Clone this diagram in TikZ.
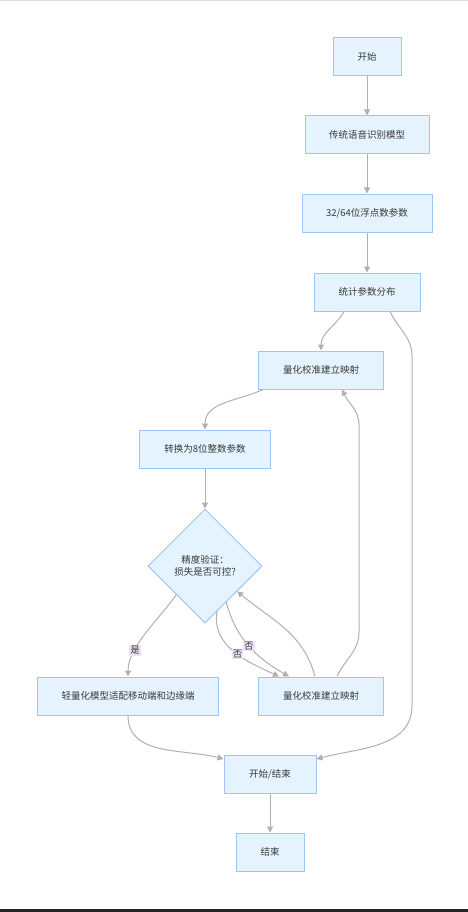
\documentclass[tikz,border=0pt]{standalone}
\usepackage{fontspec}
\setmainfont{Noto Sans CJK SC}
\usetikzlibrary{
    arrows.meta,
    calc,
    shapes.geometric
}
\definecolor{boxfill}{HTML}{E4F3FD}
\definecolor{boxline}{HTML}{9EC5F6}
\definecolor{linkgray}{HTML}{B0B0B0}
\definecolor{tagfill}{HTML}{ECE3F6}
\definecolor{inkgray}{HTML}{3A3A3A}
\tikzset{
  box/.style={
    draw=boxline,
    fill=boxfill,
    line width=1pt,
    text=inkgray,
    font=\fontsize{9.5}{12}\selectfont,
    minimum height=38pt,
    inner sep=0pt
  },
  decide/.style={
    box,
    diamond,
    aspect=1,
    minimum width=114pt,
    minimum height=114pt,
    align=center
  },
  link/.style={
    linkgray,
    line width=1pt,
    -{Triangle[length=6pt,width=6pt]}
  },
  tag/.style={
    fill=tagfill,
    text=inkgray,
    font=\fontsize{9.5}{11}\selectfont,
    inner sep=1pt
  }
}

\begin{document}
\begin{tikzpicture}[x=1pt,y=1pt]
\useasboundingbox (0,0) rectangle (468,-912);
\fill[white] (0,0) rectangle (468,-912);
\draw[gray!25, line width=1pt] (0,-0.5) -- (468,-0.5);
\fill[black!85] (0,-909) rectangle (468,-912);

\node[box, minimum width=68pt]  (start) at (367,-57)  {开始};
\node[box, minimum width=124pt] (asr)   at (367,-135) {传统语音识别模型};
\node[box, minimum width=130pt] (fp)    at (367,-213) {32/64位浮点数参数};
\node[box, minimum width=106pt] (stat)  at (367,-292) {统计参数分布};
\node[box, minimum width=125pt] (calA)  at (321,-370) {量化校准建立映射};
\node[box, minimum width=131pt] (int8)  at (205,-449) {转换为8位整数参数};
\node[decide]                   (check) at (205,-566) {精度验证：\\损失是否可控?};
\node[box, minimum width=181pt] (lite)  at (128,-696) {轻量化模型适配移动端和边缘端};
\node[box, minimum width=125pt] (calB)  at (321,-696) {量化校准建立映射};
\node[box, minimum width=92pt]  (se)    at (270,-774) {开始/结束};
\node[box, minimum width=68pt]  (stop)  at (270,-852) {结束};

\foreach \a/\b in {start/asr, asr/fp, fp/stat, int8/check, se/stop} {
  \draw[link] (\a) -- (\b);
}

\draw[link] ([xshift=-23pt]stat.south) to[out=-120,in=90] (calA.north);
\draw[link] ([xshift=23pt]stat.south) to[out=-65,in=90] ++(22,-45)
  -- ++(0,-349) to[out=-90,in=15] ([yshift=15pt]se.east);
\draw[link] ([xshift=-58pt]calA.south) to[out=-155,in=90] (int8.north);
\draw[link] ($(check.west)!0.5!(check.south)$) to[out=-125,in=90,looseness=0.8]
  node[tag, pos=0.7] (yes) {是} (lite.north);
\draw[link] ($(check.south)!0.21!(check.east)$) to[out=-100,in=155]
  node[tag, pos=0.55] (noA) {否} ([xshift=-42pt]calB.north);
\draw[link] ($(check.south)!0.37!(check.east)$) to[out=-75,in=150]
  node[tag, pos=0.5] (noB) {否} ([xshift=-32pt]calB.north);
\draw[link] ([xshift=-6pt]calB.north) to[out=105,in=-40]
  ($(check.south)!0.56!(check.east)$);
\draw[link] ([xshift=16pt]calB.north) to[out=65,in=-90] ++(22,45)
  -- ++(0,206) to[out=90,in=-65] ([xshift=21pt]calA.south);
\draw[link] (lite.south) to[out=-90,in=165] ([yshift=15pt]se.west);
\end{tikzpicture}
\end{document}
